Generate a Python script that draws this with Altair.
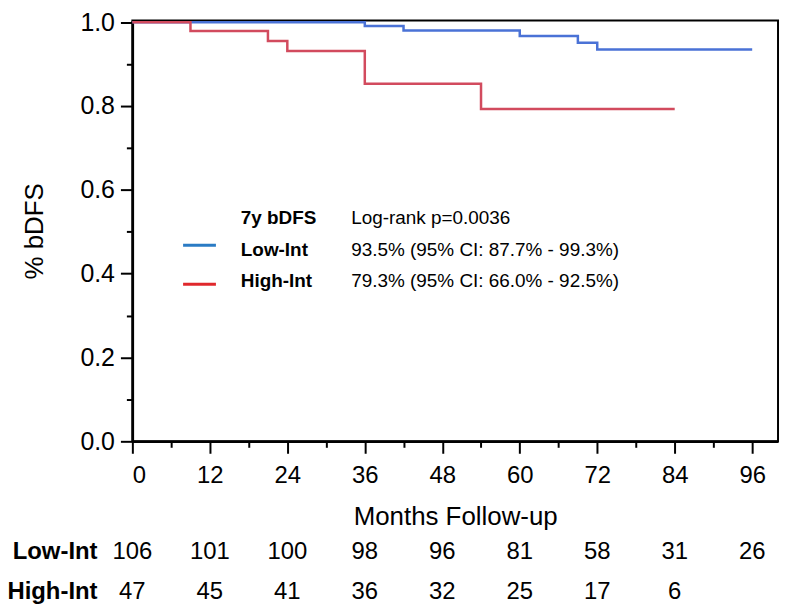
import altair as alt
import pandas as pd

# ---- data ----
groups = ["Low-Int", "High-Int"]
low_times = [0, 36, 42, 60, 69, 72, 96]
low_surv = [1.0, 0.991, 0.980, 0.967, 0.951, 0.935, 0.935]
high_times = [0, 9, 21, 24, 36, 54, 84]
high_surv = [1.0, 0.979, 0.955, 0.931, 0.853, 0.793, 0.793]

risk_months_low = [0, 12, 24, 36, 48, 60, 72, 84, 96]
low_risk = [106, 101, 100, 98, 96, 81, 58, 31, 26]
risk_months_high = [0, 12, 24, 36, 48, 60, 72, 84]
high_risk = [47, 45, 41, 36, 32, 25, 17, 6]

x_major = [0, 12, 24, 36, 48, 60, 72, 84, 96]
x_minor = [6, 18, 30, 42, 54, 66, 78, 90]
y_major = [0.0, 0.2, 0.4, 0.6, 0.8, 1.0]
y_minor = [0.1, 0.3, 0.5, 0.7, 0.9]

legend_header = ["7y bDFS", "Log-rank p=0.0036"]
legend_stats = ["93.5% (95% CI: 87.7% - 99.3%)", "79.3% (95% CI: 66.0% - 92.5%)"]

curve_colors = ["#4a72d6", "#d24b5e"]
legend_colors = ["#2a7bc4", "#e0282c"]

FONT = "Liberation Sans"
W, H = 649, 423

df = pd.concat([
    pd.DataFrame({"month": low_times, "surv": low_surv, "group": groups[0]}),
    pd.DataFrame({"month": high_times, "surv": high_surv, "group": groups[1]}),
])

x_scale = alt.Scale(domain=[0, 100], nice=False, zero=False)
y_scale = alt.Scale(domain=[0, 1.004], nice=False, zero=False)

curves = alt.Chart(df).mark_line(interpolate="step-after", strokeWidth=2.5).encode(
    x=alt.X("month:Q", scale=x_scale,
            axis=alt.Axis(values=x_major, tickSize=12, labelPadding=10, orient="bottom",
                          title="Months Follow-up", titleY=76, titleBaseline="middle",
                          titleFontSize=26, labelFontSize=24)),
    y=alt.Y("surv:Q", scale=y_scale,
            axis=alt.Axis(values=y_major, format=".1f", tickSize=12, labelPadding=6, orient="left",
                          title="% bDFS", titleX=-98, titleBaseline="middle",
                          titleFontSize=26, labelFontSize=25)),
    color=alt.Color("group:N", scale=alt.Scale(domain=groups, range=curve_colors), legend=None),
)

minor = alt.Chart(df).mark_point(opacity=0).encode(
    x=alt.X("month:Q", scale=x_scale,
            axis=alt.Axis(values=x_minor, tickSize=6, labels=False, domain=False, title=None,
                          orient="bottom")),
    y=alt.Y("surv:Q", scale=y_scale,
            axis=alt.Axis(values=y_minor, tickSize=6, labels=False, domain=False, title=None,
                          orient="left")),
)

layers = [curves, minor]

# legend block
def txt(s, x, y, bold=False, size=19, align="left"):
    return alt.Chart(pd.DataFrame({"t": [s]})).mark_text(
        font=FONT, fontSize=size, fontWeight="bold" if bold else "normal",
        align=align, baseline="middle", color="black"
    ).encode(text="t:N", x=alt.value(x), y=alt.value(y))

layers.append(txt(legend_header[0], 109, 199, bold=True))
layers.append(txt(legend_header[1], 220, 199))
row_y = [231, 262]
line_y = [226, 265]
for i in range(2):
    layers.append(txt(groups[i], 109, row_y[i], bold=True))
    layers.append(txt(legend_stats[i], 220, row_y[i]))
    layers.append(alt.Chart(pd.DataFrame({"g": [groups[i]]})).mark_rule(
        strokeWidth=3, color=legend_colors[i]
    ).encode(x=alt.value(51), x2=alt.value(84), y=alt.value(line_y[i])))

# number-at-risk table
risk_y = [534, 574]
risk_sets = [(risk_months_low, low_risk), (risk_months_high, high_risk)]
for i in range(2):
    m, n = risk_sets[i]
    layers.append(alt.Chart(pd.DataFrame({"month": m, "n": n})).mark_text(
        font=FONT, fontSize=24, align="center", baseline="middle", color="black"
    ).encode(x=alt.X("month:Q", scale=x_scale, axis=None), text="n:Q", y=alt.value(risk_y[i])))
    layers.append(txt(groups[i], -35, risk_y[i], bold=True, size=24, align="right"))

chart = alt.layer(*layers).resolve_axis(x="independent", y="independent").properties(
    width=W, height=H,
    autosize=alt.AutoSizeParams(type="none"),
    padding={"left": 125, "top": 11, "right": 4, "bottom": 170},
).configure_view(stroke="black", strokeWidth=2).configure_axis(
    grid=False, domainColor="black", domainWidth=2.5, tickColor="black", tickWidth=2,
    labelColor="black", titleColor="black", labelFont=FONT, titleFont=FONT,
    titleFontWeight="normal",
)

chart.save("out.html", embed_options={"renderer": "svg", "actions": False})
